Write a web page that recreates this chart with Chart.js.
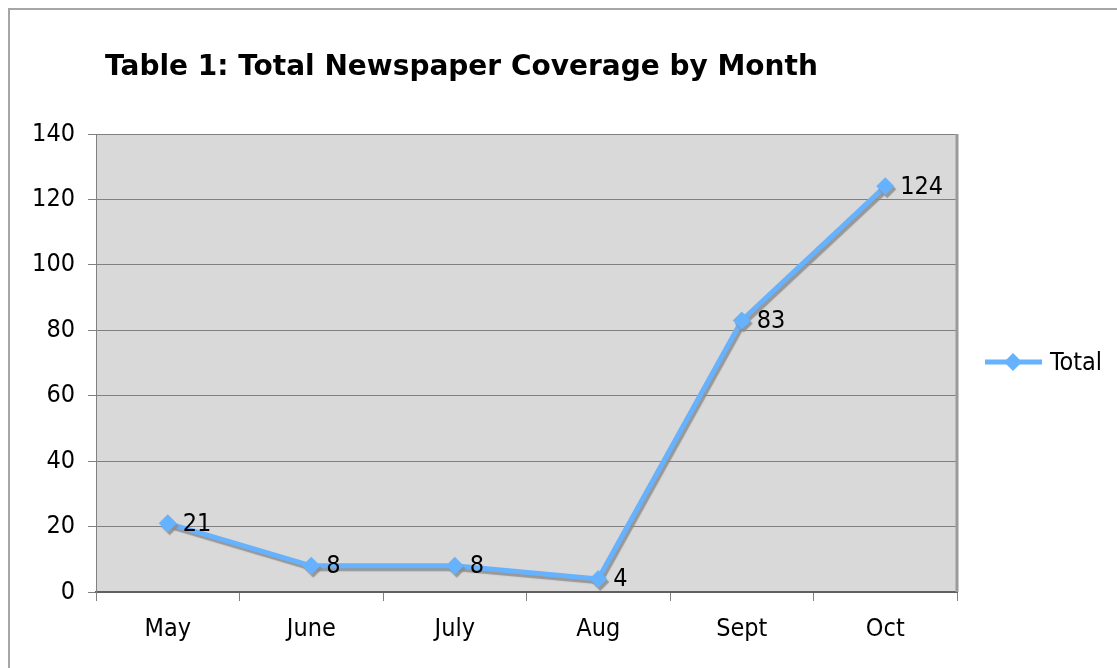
<!DOCTYPE html>
<html>
<head>
<meta charset="utf-8">
<style>
  html, body { margin: 0; padding: 0; background: #ffffff; }
  #wrap { width: 1117px; height: 668px; position: relative; }
</style>
<script src="https://cdn.jsdelivr.net/npm/chart.js@4/dist/chart.umd.min.js"></script>
</head>
<body>
<div id="wrap"><canvas id="chart" width="1117" height="668"></canvas></div>
<script>
// Monthly newspaper coverage counts
const months = ['May', 'June', 'July', 'Aug', 'Sept', 'Oct'];
const totals = [21, 8, 8, 4, 83, 124];
const yTicks = [0, 20, 40, 60, 80, 100, 120, 140];
const seriesName = 'Total';
const chartTitle = 'Table 1: Total Newspaper Coverage by Month';

const TITLE_FONT = '"DejaVu Sans", Verdana, sans-serif';
const FONT = '"DejaVu Sans Condensed", "DejaVu Sans", Tahoma, sans-serif';
const LINE_COLOR = '#66b2ff';

// Outer frame, plot background and plot border
const framePlugin = {
  id: 'frame',
  beforeDraw(chart) {
    const { ctx, chartArea: a } = chart;
    ctx.save();
    ctx.fillStyle = '#ffffff';
    ctx.fillRect(0, 0, chart.width, chart.height);
    ctx.strokeStyle = '#a6a6a6';
    ctx.lineWidth = 2;
    ctx.beginPath();
    ctx.moveTo(9, chart.height);
    ctx.lineTo(9, 9);
    ctx.lineTo(chart.width, 9);
    ctx.stroke();
    ctx.fillStyle = '#d9d9d9';
    ctx.fillRect(a.left, a.top, a.right - a.left, a.bottom - a.top);
    ctx.restore();
  },
  afterDraw(chart) {
    const { ctx, chartArea: a } = chart;
    ctx.save();
    // right edge of the plot area
    ctx.strokeStyle = '#9a9a9a';
    ctx.lineWidth = 3;
    ctx.beginPath();
    ctx.moveTo(a.right, a.top);
    ctx.lineTo(a.right, a.bottom);
    ctx.stroke();
    // title
    ctx.fillStyle = '#000000';
    ctx.font = 'bold 28px ' + TITLE_FONT;
    ctx.textAlign = 'left';
    ctx.textBaseline = 'middle';
    ctx.fillText(chartTitle, 105, 68);
    // legend
    const ly = 362;
    ctx.strokeStyle = LINE_COLOR;
    ctx.lineWidth = 5;
    ctx.beginPath();
    ctx.moveTo(985, ly);
    ctx.lineTo(1042, ly);
    ctx.stroke();
    ctx.fillStyle = LINE_COLOR;
    ctx.beginPath();
    ctx.moveTo(1013, ly - 9);
    ctx.lineTo(1022, ly);
    ctx.lineTo(1013, ly + 9);
    ctx.lineTo(1004, ly);
    ctx.closePath();
    ctx.fill();
    ctx.fillStyle = '#000000';
    ctx.font = '25px ' + FONT;
    ctx.fillText(seriesName, 1050, ly + 1);
    // value labels beside each point
    const meta = chart.getDatasetMeta(0);
    meta.data.forEach((pt, i) => {
      ctx.fillText(String(chart.data.datasets[0].data[i]), pt.x + 15, pt.y + 1);
    });
    ctx.restore();
  }
};

// Gray drop shadow under the line and markers
const shadowPlugin = {
  id: 'lineShadow',
  beforeDatasetsDraw(chart) {
    const ctx = chart.ctx;
    ctx.save();
    ctx.shadowColor = 'rgba(140,140,140,0.85)';
    ctx.shadowOffsetX = 2;
    ctx.shadowOffsetY = 3;
    ctx.shadowBlur = 1;
  },
  afterDatasetsDraw(chart) {
    chart.ctx.restore();
  }
};

new Chart(document.getElementById('chart'), {
  type: 'line',
  data: {
    labels: months,
    datasets: [{
      label: seriesName,
      data: totals,
      borderColor: LINE_COLOR,
      backgroundColor: LINE_COLOR,
      borderWidth: 5,
      tension: 0,
      pointStyle: 'rectRot',
      pointRadius: 9,
      pointBorderWidth: 0,
      pointBackgroundColor: LINE_COLOR,
      clip: false
    }]
  },
  options: {
    responsive: false,
    animation: false,
    events: [],
    layout: { padding: { left: 0, top: 134, right: 160, bottom: 0 } },
    plugins: {
      legend: { display: false },
      title: { display: false },
      tooltip: { enabled: false }
    },
    scales: {
      x: {
        offset: true,
        grid: {
          offset: true,
          drawOnChartArea: false,
          drawTicks: true,
          tickLength: 9,
          color: '#808080',
          lineWidth: 1
        },
        border: { display: true, color: '#606060', width: 2 },
        ticks: {
          color: '#000000',
          font: { family: FONT, size: 25 },
          padding: 13,
          maxRotation: 0
        },
        afterFit(scale) { scale.height = 76; }
      },
      y: {
        min: 0,
        max: 140,
        afterBuildTicks(scale) { scale.ticks = yTicks.map(v => ({ value: v })); },
        grid: {
          color: '#808080',
          lineWidth: 1,
          drawTicks: true,
          tickLength: 8
        },
        border: { display: true, color: '#808080', width: 1 },
        ticks: {
          color: '#000000',
          font: { family: FONT, size: 25 },
          padding: 13
        },
        afterFit(scale) { scale.width = 96; }
      }
    }
  },
  plugins: [framePlugin, shadowPlugin]
});
</script>
</body>
</html>
